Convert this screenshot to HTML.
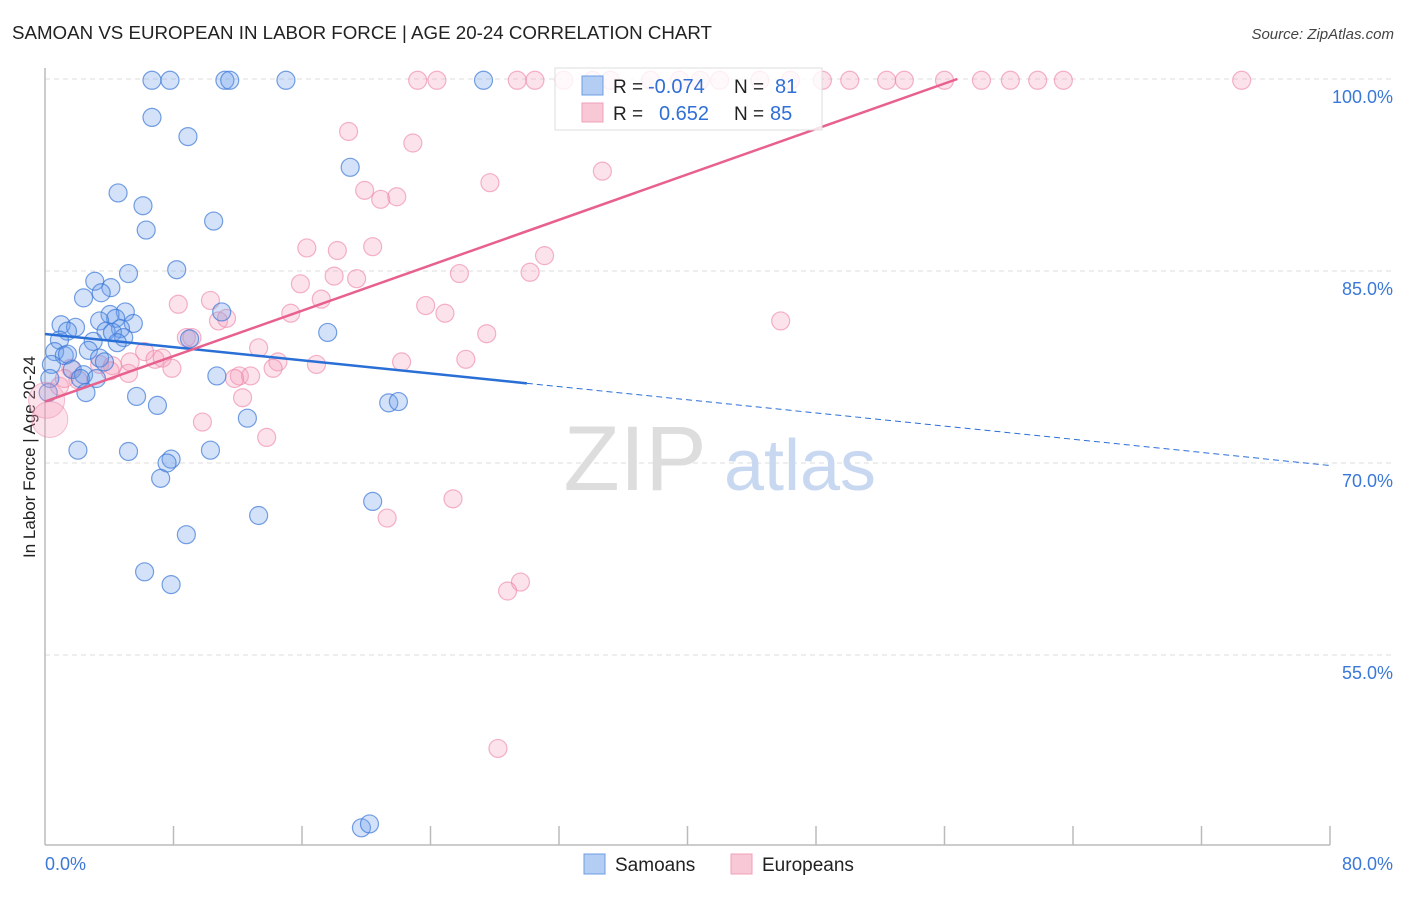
<!DOCTYPE html>
<html><head><meta charset="utf-8"><style>
html,body{margin:0;padding:0;background:#fff;}
body{width:1406px;height:892px;overflow:hidden;font-family:"Liberation Sans",sans-serif;}
svg text{font-family:"Liberation Sans",sans-serif;}
</style></head><body>
<svg id="chart" width="1406" height="892" viewBox="0 0 1406 892">
<text x="12" y="39" font-size="18" fill="#222" textLength="700" lengthAdjust="spacingAndGlyphs">SAMOAN VS EUROPEAN IN LABOR FORCE | AGE 20-24 CORRELATION CHART</text>
<text x="1394" y="39" font-size="15" fill="#444" font-style="italic" text-anchor="end">Source: ZipAtlas.com</text>
<text x="35" y="457" font-size="17" fill="#222" text-anchor="middle" transform="rotate(-90 35 457)">In Labor Force | Age 20-24</text>
<g id="grid"></g>
<g>
<text x="635" y="490" font-size="92" fill="#ddd" font-family="Liberation Serif" text-anchor="middle">ZIP</text>
<text x="800" y="490" font-size="72" fill="#c8d8f0" text-anchor="middle">atlas</text>
</g>
<g id="pts"></g>
<g id="lines"></g>
<g>
<rect x="555" y="68" width="267" height="62" fill="rgba(255,255,255,0.8)" stroke="#ddd"/>
<rect x="582" y="76" width="21" height="19" fill="#b4cdf3" stroke="#6c9de6"/>
<rect x="582" y="103" width="21" height="19" fill="#f9c8d6" stroke="#f0a0b8"/>
<text x="613" y="93" font-size="19" fill="#222">R = </text><text x="648" y="93" font-size="20" fill="#2f6fd6">-0.074</text>
<text x="734" y="93" font-size="19" fill="#222">N = </text><text x="775" y="93" font-size="20" fill="#2f6fd6">81</text>
<text x="613" y="120" font-size="19" fill="#222">R = </text><text x="659" y="120" font-size="20" fill="#2f6fd6">0.652</text>
<text x="734" y="120" font-size="19" fill="#222">N = </text><text x="770" y="120" font-size="20" fill="#2f6fd6">85</text>
</g>
<g>
<rect x="584" y="854" width="21" height="20" fill="#b4cdf3" stroke="#6c9de6"/>
<text x="615" y="871" font-size="19" fill="#222">Samoans</text>
<rect x="731" y="854" width="21" height="20" fill="#f9c8d6" stroke="#f0a0b8"/>
<text x="762" y="871" font-size="19" fill="#222">Europeans</text>
</g>
</svg>
<script>
const samoanX=[6.66,7.78,11.2,11.5,15.0,27.3,6.66,8.9,4.55,6.1,10.5,6.3,19.0,8.2,5.2,3.1,4.1,2.4,3.5,5.0,11.0,4.05,4.4,3.4,5.5,1.0,1.9,4.7,1.4,3.8,4.2,17.6,4.9,0.9,3.0,4.5,9.0,2.7,0.6,1.2,1.4,3.4,3.7,0.4,1.7,2.4,3.2,2.2,0.3,2.55,5.7,0.2,7.0,21.4,22.0,10.7,12.6,2.05,5.2,10.3,7.85,7.6,7.2,20.4,13.3,8.8,6.2,7.85,19.7,20.2];
const samoanY=[99.9,99.9,99.9,99.9,99.9,99.9,97.0,95.5,91.1,90.1,88.9,88.2,93.1,85.1,84.8,84.2,83.7,82.9,83.3,81.8,81.8,81.6,81.3,81.1,80.9,80.8,80.6,80.5,80.3,80.3,80.2,80.2,79.8,79.6,79.5,79.4,79.7,78.8,78.7,78.4,78.5,78.2,77.9,77.7,77.3,76.9,76.6,76.6,76.6,75.5,75.2,75.5,74.5,74.7,74.8,76.8,73.5,71.0,70.9,71.0,70.3,70.0,68.8,67.0,65.9,64.4,61.5,60.5,41.5,41.8];
const europeanX=[23.2,24.4,29.4,30.5,32.3,34.1,35.2,37.7,39.5,40.8,42.0,44.5,46.4,48.4,50.1,52.4,53.5,56.0,58.3,60.1,61.8,63.4,74.5,18.9,22.9,34.7,27.7,19.9,20.9,21.9,16.3,18.2,20.4,31.1,15.9,18.0,19.4,25.8,30.2,17.2,15.3,8.3,10.3,23.7,24.9,10.8,11.3,8.8,9.15,45.8,27.5,13.3,6.2,6.85,7.3,14.5,16.9,22.2,26.2,7.9,5.2,3.4,4.2,5.3,1.6,2.05,0.9,12.1,12.8,11.8,12.3,14.2,9.8,13.8,21.3,25.4,29.6,28.8,28.2,4.05,1.2];
const europeanY=[99.9,99.9,99.9,99.9,99.9,99.9,99.9,99.9,99.9,99.9,99.9,99.9,99.9,99.9,99.9,99.9,99.9,99.9,99.9,99.9,99.9,99.9,99.9,95.9,95.0,92.8,91.9,91.3,90.6,90.8,86.8,86.6,86.9,86.2,84.0,84.6,84.4,84.8,84.9,82.8,81.7,82.4,82.7,82.3,81.7,81.1,81.3,79.8,79.8,81.1,80.1,79.0,78.7,78.1,78.2,77.9,77.7,77.9,78.1,77.4,77.0,77.7,77.6,77.9,77.4,76.5,76.0,76.8,76.8,76.6,75.1,77.4,73.2,72.0,65.7,67.2,60.7,60.0,47.7,77.2,76.6];
const bigX=[0.1,0.3];
const bigY=[74.9,73.4];
const yTicks=[100,85,70,55];
const yTickLabels=["100.0%","85.0%","70.0%","55.0%"];
const xTickCount=10;
const samoanTrend=[80.08,69.8];
const europeanTrend=[74.8,100,56.8];
const NS='http://www.w3.org/2000/svg';
const X0=45,X1=1330,Y100=79,PXPER=12.8,YB=845;
function sx(v){return X0+(X1-X0)*v/80;}
function sy(v){return Y100+(100-v)*PXPER;}
function mk(tag,attrs,parent){const e=document.createElementNS(NS,tag);for(const k in attrs)e.setAttribute(k,attrs[k]);parent.appendChild(e);return e;}
const grid=document.getElementById('grid');
yTicks.forEach((t,i)=>{
 const l=mk('line',{x1:X0,x2:1394,y1:sy(t),y2:sy(t),stroke:'#ddd','stroke-dasharray':'5,4'},grid);
 
 
 const tx=mk('text',{x:1393,y:sy(t)+24,'font-size':18,fill:'#3a78d8','text-anchor':'end'},grid);
 tx.textContent=yTickLabels[i];
 
 
});
const ax=mk('line',{x1:X0,x2:X0,y1:68,y2:YB,stroke:'#bbb','stroke-width':1.5},grid);


const bx=mk('line',{x1:X0,x2:X1,y1:YB,y2:YB,stroke:'#bbb','stroke-width':1.5},grid);


for(let i=1;i<=xTickCount;i++){
 const xv=80*i/xTickCount;
 const tk=mk('line',{x1:sx(xv),x2:sx(xv),y1:826,y2:YB,stroke:'#bbb','stroke-width':1.5},grid);
 
 
}
const xl0=mk('text',{x:45,y:870,'font-size':18,fill:'#3a78d8'},grid);xl0.textContent='0.0%';


const xl1=mk('text',{x:1393,y:870,'font-size':18,fill:'#3a78d8','text-anchor':'end'},grid);xl1.textContent='80.0%';


const pts=document.getElementById('pts');
europeanX.forEach((x,i)=>{
 const c=mk('circle',{cx:sx(x),cy:sy(europeanY[i]),r:9,fill:'rgba(244,160,188,0.3)',stroke:'rgba(236,130,165,0.6)','stroke-width':1.2},pts);
 
 
});
samoanX.forEach((x,i)=>{
 const c=mk('circle',{cx:sx(x),cy:sy(samoanY[i]),r:9,fill:'rgba(110,160,235,0.3)',stroke:'rgba(60,120,215,0.7)','stroke-width':1.2},pts);
 
 
});
bigX.forEach((x,i)=>{
 const c=mk('circle',{cx:sx(x),cy:sy(bigY[i]),r:18,fill:'rgba(244,160,188,0.3)',stroke:'rgba(236,130,165,0.5)'},pts);
 
 
});
const lines=document.getElementById('lines');
function sTrend(x){return samoanTrend[0]+(samoanTrend[1]-samoanTrend[0])*x/80;}
const l1=mk('line',{x1:sx(0),y1:sy(sTrend(0)),x2:sx(30),y2:sy(sTrend(30)),stroke:'#2a6fd6','stroke-width':2.5},lines);


const l2=mk('line',{x1:sx(30),y1:sy(sTrend(30)),x2:sx(80),y2:sy(sTrend(80)),stroke:'#2a6fd6','stroke-width':1,'stroke-dasharray':'6,4'},lines);


const l3=mk('line',{x1:sx(0),y1:sy(europeanTrend[0]),x2:sx(europeanTrend[2]),y2:sy(europeanTrend[1]),stroke:'#e8608c','stroke-width':2.5},lines);


</script>
</body></html>
